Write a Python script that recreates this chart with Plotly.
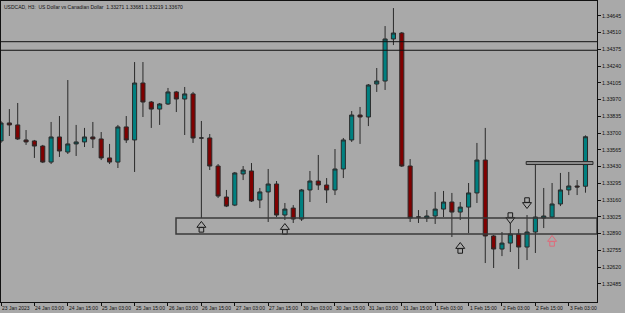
import plotly.graph_objects as go

# ---- data (USDCAD H3 bars) ----
opens = [1.33636, 1.33781, 1.33765, 1.33644, 1.33636, 1.33595, 1.33466, 1.33668, 1.33547, 1.33612,
         1.33628, 1.33668, 1.33652, 1.33499, 1.33466, 1.33749, 1.33644, 1.34103, 1.33950, 1.33893,
         1.33934, 1.34031, 1.33974, 1.34015, 1.33660, 1.33660, 1.33434, 1.33184, 1.33119, 1.33370,
         1.33394, 1.33160, 1.33225, 1.33289, 1.33039, 1.33095, 1.33007, 1.33241, 1.33313, 1.33281,
         1.33241, 1.33410, 1.33644, 1.33845, 1.33829, 1.34095, 1.34119, 1.34458, 1.34506, 1.33434,
         1.33023, 1.33015, 1.33031, 1.33087, 1.33144, 1.33063, 1.33103, 1.33217, 1.33482, 1.32870,
         1.32765, 1.32813, 1.32886, 1.32781, 1.32902, 1.33015, 1.33023, 1.33128, 1.33241, 1.33273,
         1.33271]
highs = [1.33797, 1.33893, 1.33942, 1.33724, 1.33644, 1.33604, 1.33789, 1.33837, 1.34127, 1.33765,
         1.33741, 1.33789, 1.33708, 1.33612, 1.33765, 1.33837, 1.34272, 1.34272, 1.33958, 1.33942,
         1.34063, 1.34039, 1.34071, 1.34031, 1.33797, 1.33692, 1.33450, 1.33241, 1.33386, 1.33434,
         1.33458, 1.33257, 1.33410, 1.33313, 1.33136, 1.33119, 1.33249, 1.33394, 1.33523, 1.33337,
         1.33571, 1.33660, 1.33877, 1.33910, 1.34095, 1.34224, 1.34562, 1.34707, 1.34514, 1.33490,
         1.33079, 1.33079, 1.33225, 1.33233, 1.33217, 1.33144, 1.33297, 1.33620, 1.33741, 1.32878,
         1.32902, 1.32983, 1.32926, 1.33039, 1.33458, 1.33257, 1.33297, 1.33378, 1.33386, 1.33321,
         1.33681]
lows = [1.33620, 1.33676, 1.33644, 1.33604, 1.33499, 1.33458, 1.33450, 1.33507, 1.33531, 1.33515,
        1.33587, 1.33579, 1.33482, 1.33450, 1.33418, 1.33620, 1.33386, 1.33829, 1.33741, 1.33765,
        1.33926, 1.33869, 1.33684, 1.33620, 1.33015, 1.33402, 1.33176, 1.33103, 1.33111, 1.33321,
        1.33144, 1.33095, 1.32983, 1.33023, 1.32999, 1.32975, 1.32991, 1.33144, 1.33241, 1.33136,
        1.33200, 1.33337, 1.33628, 1.33612, 1.33756, 1.34031, 1.34047, 1.34409, 1.33426, 1.32983,
        1.32975, 1.32983, 1.32967, 1.33023, 1.32862, 1.32999, 1.32894, 1.33136, 1.32652, 1.32612,
        1.32708, 1.32741, 1.32604, 1.32676, 1.32733, 1.32934, 1.33015, 1.33111, 1.33200, 1.33200,
        1.33219]
closes = [1.33781, 1.33765, 1.33652, 1.33628, 1.33595, 1.33466, 1.33668, 1.33555, 1.33612, 1.33628,
          1.33668, 1.33652, 1.33499, 1.33466, 1.33749, 1.33644, 1.34103, 1.33950, 1.33893, 1.33934,
          1.34031, 1.33974, 1.34015, 1.33660, 1.33660, 1.33434, 1.33192, 1.33111, 1.33378, 1.33402,
          1.33152, 1.33225, 1.33289, 1.33039, 1.33087, 1.33007, 1.33241, 1.33313, 1.33281, 1.33241,
          1.33410, 1.33644, 1.33845, 1.33829, 1.34087, 1.34119, 1.34458, 1.34506, 1.33434, 1.33015,
          1.33023, 1.33031, 1.33087, 1.33144, 1.33063, 1.33103, 1.33217, 1.33482, 1.32870, 1.32765,
          1.32813, 1.32886, 1.32781, 1.32902, 1.33023, 1.33031, 1.33128, 1.33241, 1.33273, 1.33265,
          1.33670]
bars = list(range(len(opens)))

time_tick_bars = [0, 4, 8, 12, 16, 20, 24, 28, 32, 36, 40, 44, 48, 52, 56, 60, 64, 68]
time_tick_labels = ["23 Jan 2023", "24 Jan 03:00", "24 Jan 15:00", "25 Jan 03:00", "25 Jan 15:00",
                    "26 Jan 03:00", "26 Jan 15:00", "27 Jan 03:00", "27 Jan 15:00", "30 Jan 03:00",
                    "30 Jan 15:00", "31 Jan 03:00", "31 Jan 15:00", "1 Feb 03:00", "1 Feb 15:00",
                    "2 Feb 03:00", "2 Feb 15:00", "3 Feb 03:00"]
price_ticks = [1.32485, 1.32620, 1.32755, 1.32890, 1.33025, 1.33160, 1.33295, 1.33430, 1.33565,
               1.33700, 1.33835, 1.33970, 1.34105, 1.34240, 1.34375, 1.34510, 1.34645]
price_tick_labels = ["1.32485", "1.32620", "1.32755", "1.32890", "1.33025", "1.33160", "1.33295",
                     "1.33430", "1.33565", "1.33700", "1.33835", "1.33970", "1.34105", "1.34240",
                     "1.34375", "1.34510", "1.34645"]

up_arrow_bars = [24, 34, 55]
up_arrow_prices = [1.32943, 1.32926, 1.32773]
pink_arrow_bars = [66]
pink_arrow_prices = [1.32830]
down_arrow_bars = [61, 63]
down_arrow_prices = [1.33015, 1.33136]

upper_lines = [1.34436, 1.34367]
zone_low, zone_high = 1.32886, 1.33015
zone_start_bar = 20.96
short_level_low, short_level_high = 1.33446, 1.33470
short_level_bars = [62.9, 70.9]

title_text = "USDCAD, H3:  US Dollar vs Canadian Dollar  1.33271 1.33681 1.33219 1.33670"

# ---- figure ----
FONT = "Liberation Sans, Arial, sans-serif"
BG = "#A9A9A9"
XR = [0, 71.38]
YR = [1.32338, 1.34764]
PLOT_H = 301  # plot height in px
PX = (YR[1] - YR[0]) / PLOT_H  # price per pixel

fig = go.Figure()
fig.add_trace(go.Candlestick(
    x=bars, open=opens, high=highs, low=lows, close=closes,
    increasing=dict(line=dict(color="#2a2a2a", width=1), fillcolor="#008080"),
    decreasing=dict(line=dict(color="#2a2a2a", width=1), fillcolor="#800000"),
    whiskerwidth=0, showlegend=False, hoverinfo="skip"))


def add_block_arrow(xs, ys, direction, color):
    sgn = 1 if direction == "up" else -1
    stem_y = [y - sgn * 2.9 * PX for y in ys]
    head_y = [y + sgn * 1.6 * PX for y in ys]
    fig.add_trace(go.Scatter(
        x=xs, y=stem_y, mode="markers",
        marker=dict(symbol="square", size=4.6, color=BG, line=dict(color=color, width=1)),
        showlegend=False, hoverinfo="skip", cliponaxis=False))
    fig.add_trace(go.Scatter(
        x=xs, y=head_y, mode="markers",
        marker=dict(symbol="triangle-up" if direction == "up" else "triangle-down",
                    size=7.8, color=BG, line=dict(color=color, width=1)),
        showlegend=False, hoverinfo="skip", cliponaxis=False))


add_block_arrow(up_arrow_bars, up_arrow_prices, "up", "#1a1a1a")
add_block_arrow(pink_arrow_bars, pink_arrow_prices, "up", "#E06A7A")
add_block_arrow(down_arrow_bars, down_arrow_prices, "down", "#1a1a1a")

for lvl in upper_lines:
    fig.add_shape(type="line", xref="paper", yref="y", x0=0, x1=1, y0=lvl, y1=lvl,
                  line=dict(color="#111111", width=1))
fig.add_shape(type="rect", xref="x", yref="y", x0=zone_start_bar, x1=XR[1], y0=zone_low, y1=zone_high,
              line=dict(color="#3a3a3a", width=1.5), fillcolor="rgba(0,0,0,0)")
fig.add_shape(type="rect", xref="x", yref="y", x0=short_level_bars[0], x1=short_level_bars[1],
              y0=short_level_low, y1=short_level_high,
              line=dict(color="#2a2a2a", width=1), fillcolor="#8c8c8c")

for b, lab in zip(time_tick_bars, time_tick_labels):
    fig.add_annotation(x=b, xref="x", y=0, yref="paper", text=lab, showarrow=False,
                       xanchor="left", yanchor="middle", yshift=-6, xshift=-1,
                       font=dict(family=FONT, size=5, color="#111111"))

fig.add_annotation(x=0, xref="paper", y=1, yref="paper", text=title_text, showarrow=False,
                   xanchor="left", yanchor="top", xshift=1, yshift=-1,
                   font=dict(family=FONT, size=5, color="#111111"))

fig.update_layout(
    width=625, height=313,
    margin=dict(l=1, r=28, t=1, b=11, pad=0),
    paper_bgcolor=BG, plot_bgcolor=BG,
    showlegend=False,
    xaxis=dict(range=XR, tickvals=time_tick_bars, ticktext=[""] * len(time_tick_bars),
               ticks="outside", ticklen=3, tickcolor="#111111", tickwidth=1,
               showline=True, linecolor="#111111", linewidth=1, mirror=True,
               showgrid=False, zeroline=False, rangeslider=dict(visible=False), fixedrange=True),
    yaxis=dict(range=YR, side="right", tickvals=price_ticks, ticktext=price_tick_labels,
               ticks="outside", ticklen=3, tickcolor="#111111", tickwidth=1,
               tickfont=dict(family=FONT, size=5.3, color="#111111"),
               showline=True, linecolor="#111111", linewidth=1, mirror=True,
               showgrid=False, zeroline=False, fixedrange=True),
)

fig.write_html("out.html")
